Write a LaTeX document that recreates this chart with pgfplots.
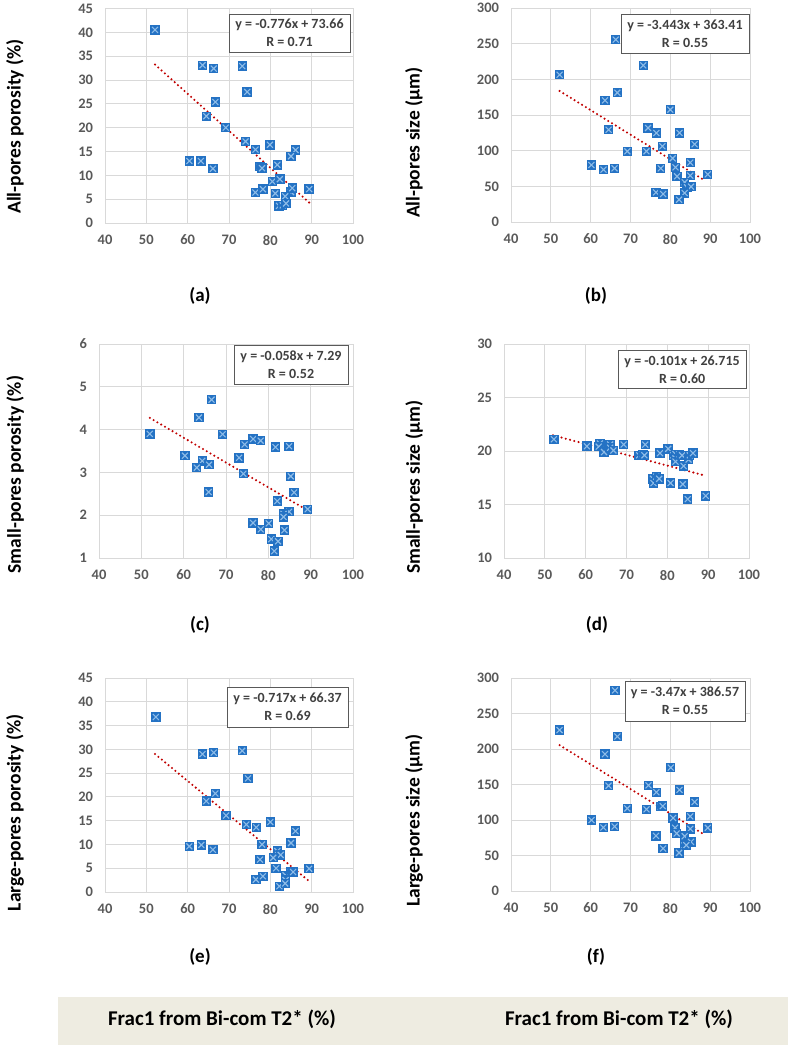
\documentclass[border=0pt]{standalone}
\usepackage{fontspec}
\setmainfont{Carlito}
\usepackage{pgfplots}
\pgfplotsset{compat=1.18}
\definecolor{gridgray}{HTML}{D9D9D9}
\definecolor{tickgray}{HTML}{595959}
\definecolor{boxgray}{HTML}{595959}
\definecolor{eqgray}{HTML}{404040}
\definecolor{mkdark}{HTML}{2472C4}
\definecolor{mklight}{HTML}{8EBCE8}
\definecolor{trendred}{HTML}{C00000}
\definecolor{band}{HTML}{EEECE1}
\pgfdeclareplotmark{xsq}{%
  \pgfsetfillcolor{mkdark}%
  \pgfpathrectangle{\pgfpoint{-4.7pt}{-4.7pt}}{\pgfpoint{9.4pt}{9.4pt}}%
  \pgfusepathqfill
  \pgfsetstrokecolor{mklight}%
  \pgfsetlinewidth{1.1pt}%
  \pgfpathmoveto{\pgfpoint{-3pt}{-3pt}}\pgfpathlineto{\pgfpoint{3pt}{3pt}}%
  \pgfpathmoveto{\pgfpoint{-3pt}{3pt}}\pgfpathlineto{\pgfpoint{3pt}{-3pt}}%
  \pgfusepathqstroke
}
\tikzset{
  eqbox/.style={draw=boxgray, fill=white, line width=0.8pt, inner sep=0pt, align=center,
    font=\fontsize{14}{18}\selectfont\bfseries, text=eqgray},
  ylab/.style={rotate=90, font=\fontsize{19.5}{22}\selectfont\bfseries, text=black},
}
\pgfplotsset{
  panel/.style={
    scale only axis, clip=false,
    xmin=40, xmax=100, xtick={40,50,...,100},
    grid=major,
    grid style={draw=gridgray, line width=0.8pt},
    axis line style={draw=gridgray, line width=0.8pt},
    major tick length=0pt,
    tick label style={font=\fontsize{14.5}{16}\selectfont\bfseries, text=tickgray},
    /pgf/number format/assume math mode=true,
    yticklabel style={xshift=-8.5pt},
    xticklabel style={yshift=-8.5pt},
  },
  pts/.style={only marks, mark=xsq},
  trend/.style={trendred, line width=2.3pt, line cap=round, dash pattern=on 0pt off 4.4pt},
}
\begin{document}
\begin{tikzpicture}
\useasboundingbox (0,0) rectangle (788pt,1050pt);
\fill[band] (58pt,5pt) rectangle (788pt,53pt);
\node[font=\fontsize{21}{24}\selectfont\bfseries] at (222pt,31pt) {Frac1 from Bi-com T2* (\%)};
\node[font=\fontsize{21}{24}\selectfont\bfseries] at (619pt,31pt) {Frac1 from Bi-com T2* (\%)};
\foreach \lab/\x/\y in {(a)/200/754,(b)/596/754,(c)/200/425,(d)/597/425,(e)/200/93,(f)/596/93}
  \node[font=\fontsize{19}{22}\selectfont\bfseries] at (\x pt,\y pt) {\lab};

% (a)
\begin{axis}[panel, at={(105pt,827pt)}, anchor=south west, width=248pt, height=214.5pt,
  ymin=0, ymax=45, ytick={0,5,...,45}]
\addplot[pts] coordinates {
(52.1,40.5) (63.6,33.1) (66.3,32.4) (73.2,32.9) (74.4,27.5) (66.7,25.4) (64.5,22.4)
(69.2,20.0) (60.4,13.0) (63.2,13.0) (66.1,11.4) (74.0,17.1) (76.4,15.4) (79.9,16.4)
(86.1,15.3) (85.0,14.0) (81.7,12.2) (77.5,11.8) (78.0,11.5) (80.5,8.7) (82.3,9.2)
(76.4,6.4) (78.2,7.1) (81.2,6.2) (85.0,6.5) (85.3,7.3) (89.4,7.1) (83.6,5.6)
(82.1,3.6) (83.0,3.7) (83.8,4.1)};
\addplot[trend] coordinates {(52.1,33.23) (89.5,4.21)};
\node[eqbox, minimum width=121pt, minimum height=38pt] at (axis description cs:0.744,0.886) {y = -0.776x + 73.66\\R = 0.71};
\node[ylab] at (axis description cs:-0.363,0.45) {All-pores porosity (\%)};
\end{axis}

% (b)
\begin{axis}[panel, at={(511pt,828pt)}, anchor=south west, width=239pt, height=214pt,
  ymin=0, ymax=300, ytick={0,50,...,300}]
\addplot[pts] coordinates {
(52.2,206.5) (66.3,255.6) (73.2,219.6) (66.7,181.3) (63.6,170.6) (80.0,157.5) (64.5,129.4)
(74.4,131.8) (76.5,124.8) (82.3,124.8) (86.1,108.9) (78.0,106.1) (69.2,99.1) (74.0,99.1)
(80.6,89.3) (60.2,79.9) (63.2,73.4) (66.0,75.2) (77.6,75.2) (81.3,76.6) (85.0,83.2)
(81.7,64.0) (85.0,65.0) (89.4,66.8) (83.6,55.6) (84.2,48.6) (85.2,49.5) (76.4,41.6)
(78.2,39.3) (83.6,40.7) (82.2,31.3)};
\addplot[trend] coordinates {(52.2,183.68) (88.5,58.70)};
\node[eqbox, minimum width=128pt, minimum height=39pt] at (axis description cs:0.728,0.881) {y = -3.443x + 363.41\\R = 0.55};
\node[ylab] at (axis description cs:-0.406,0.37) {All-pores size (µm)};
\end{axis}

% (c)
\begin{axis}[panel, at={(99pt,492pt)}, anchor=south west, width=254pt, height=214pt,
  ymin=1, ymax=6, ytick={1,2,...,6}]
\addplot[pts] coordinates {
(52.0,3.90) (66.6,4.70) (63.6,4.28) (69.2,3.89) (60.3,3.39) (64.4,3.27) (63.1,3.11)
(66.0,3.18) (65.9,2.54) (73.1,3.34) (74.4,3.65) (76.4,3.78) (78.2,3.74) (81.7,3.59)
(84.9,3.61) (85.3,2.91) (74.1,2.97) (86.1,2.53) (82.1,2.33) (89.3,2.14) (84.9,2.08)
(83.6,2.03) (83.6,1.96) (76.4,1.82) (80.1,1.81) (78.2,1.67) (83.8,1.65) (80.7,1.44)
(82.3,1.39) (81.4,1.16)};
\addplot[trend] coordinates {(52.0,4.274) (89.5,2.099)};
\node[eqbox, minimum width=114pt, minimum height=39pt] at (axis description cs:0.756,0.904) {y = -0.058x + 7.29\\R = 0.52};
\node[ylab] at (axis description cs:-0.33,0.39) {Small-pores porosity (\%)};
\end{axis}

% (d)
\begin{axis}[panel, at={(504pt,492pt)}, anchor=south west, width=245pt, height=214pt,
  ymin=10, ymax=30, ytick={10,15,...,30}]
\addplot[pts] coordinates {
(52.2,21.1) (60.3,20.45) (63.5,20.7) (63.2,20.4) (64.5,19.9) (66.0,20.6) (66.0,20.3)
(66.8,20.05) (69.3,20.6) (73.1,19.6) (74.0,19.7) (74.4,19.6) (74.6,20.6) (78.2,19.8)
(80.2,20.2) (81.5,19.6) (82.0,19.7) (82.0,19.3) (82.0,19.0) (83.0,19.7) (83.6,19.6)
(84.0,18.6) (85.2,19.2) (85.5,19.6) (86.3,19.8) (76.5,17.4) (76.6,17.0) (77.3,17.6)
(78.0,17.4) (80.8,17.0) (83.8,16.9) (85.0,15.5) (89.4,15.8)};
\addplot[trend] coordinates {(52.0,21.463) (89.5,17.676)};
\node[eqbox, minimum width=128pt, minimum height=38pt] at (axis description cs:0.727,0.879) {y = -0.101x + 26.715\\R = 0.60};
\node[ylab] at (axis description cs:-0.367,0.33) {Small-pores size (µm)};
\end{axis}

% (e)
\begin{axis}[panel, at={(105pt,158pt)}, anchor=south west, width=248pt, height=214pt,
  ymin=0, ymax=45, ytick={0,5,...,45}]
\addplot[pts] coordinates {
(52.3,36.8) (63.6,29.0) (66.3,29.3) (73.2,29.7) (74.6,23.9) (66.7,20.7) (64.5,19.1)
(69.3,16.1) (74.2,14.2) (76.6,13.6) (80.0,14.7) (86.1,12.8) (85.0,10.3) (60.4,9.6)
(63.3,9.9) (66.1,8.9) (78.0,10.0) (77.5,6.8) (81.7,8.6) (82.5,7.8) (80.7,7.2)
(81.4,5.0) (89.4,4.9) (76.5,2.6) (78.2,3.3) (82.2,1.2) (83.7,3.5) (83.7,2.5)
(83.6,1.8) (85.0,4.2) (85.5,4.2)};
\addplot[trend] coordinates {(52.1,29.01) (89.5,2.20)};
\node[eqbox, minimum width=121pt, minimum height=40pt] at (axis description cs:0.736,0.864) {y = -0.717x + 66.37\\R = 0.69};
\node[ylab] at (axis description cs:-0.363,0.37) {Large-pores porosity (\%)};
\end{axis}

% (f)
\begin{axis}[panel, at={(511pt,159pt)}, anchor=south west, width=239pt, height=213pt,
  ymin=0, ymax=300, ytick={0,50,...,300}]
\addplot[pts] coordinates {
(52.2,226.6) (66.1,282.6) (66.7,217.6) (63.6,192.7) (80.1,173.8) (64.5,148.4) (74.5,148.8)
(76.5,139.0) (82.3,142.3) (86.1,125.3) (77.6,118.7) (78.1,119.6) (69.2,116.3) (74.0,115.0)
(80.7,102.7) (85.0,105.0) (60.2,99.9) (63.2,89.5) (66.0,90.9) (81.2,89.0) (81.6,81.0)
(85.0,87.6) (89.4,89.0) (76.4,77.7) (83.6,77.2) (85.2,69.2) (83.5,64.1) (84.0,64.5)
(78.2,59.8) (82.2,53.7)};
\addplot[trend] coordinates {(52.2,205.43) (88.5,79.48)};
\node[eqbox, minimum width=120pt, minimum height=40pt] at (axis description cs:0.728,0.892) {y = -3.47x + 386.57\\R = 0.55};
\node[ylab] at (axis description cs:-0.406,0.33) {Large-pores size (µm)};
\end{axis}
\end{tikzpicture}
\end{document}
